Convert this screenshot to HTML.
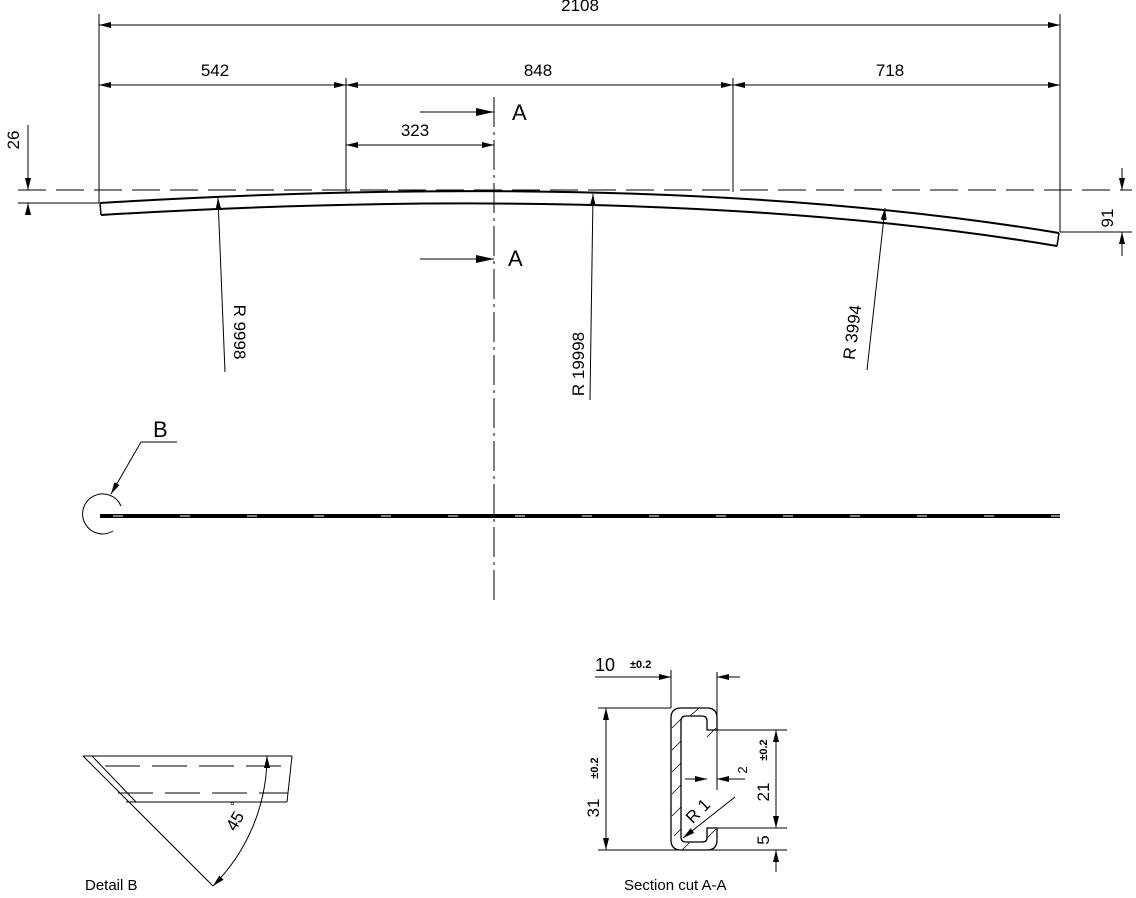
<!DOCTYPE html>
<html><head><meta charset="utf-8"><style>
html,body{margin:0;padding:0;background:#fff}
svg{display:block}
text{font-family:"Liberation Sans",Arial,sans-serif;fill:#000}
</style></head><body>
<svg width="1136" height="898" viewBox="0 0 1136 898" xmlns="http://www.w3.org/2000/svg">
<defs>
<marker id="a" viewBox="0 0 12 6" refX="12" refY="3" markerWidth="12" markerHeight="6" orient="auto-start-reverse" markerUnits="userSpaceOnUse"><path d="M0,0 L12,3 L0,6 z" fill="#000"/></marker>
<marker id="b" viewBox="0 0 18 8" refX="18" refY="4" markerWidth="18" markerHeight="8" orient="auto" markerUnits="userSpaceOnUse"><path d="M0,0 L18,4 L0,8 z" fill="#000"/></marker>
</defs>
<g stroke="#000" stroke-width="1" fill="none">
<line x1="99" y1="14" x2="99" y2="203"/>
<line x1="1060" y1="14" x2="1060" y2="232"/>
<line x1="346" y1="78" x2="346" y2="192"/>
<line x1="733" y1="78" x2="733" y2="192"/>
<line x1="99" y1="25" x2="1060" y2="25" marker-start="url(#a)" marker-end="url(#a)"/>
<line x1="99" y1="85" x2="346" y2="85" marker-start="url(#a)" marker-end="url(#a)"/>
<line x1="346" y1="85" x2="733" y2="85" marker-start="url(#a)" marker-end="url(#a)"/>
<line x1="733" y1="85" x2="1060" y2="85" marker-start="url(#a)" marker-end="url(#a)"/>
<line x1="346" y1="145" x2="494" y2="145" marker-start="url(#a)" marker-end="url(#a)"/>
<line x1="420" y1="112" x2="494" y2="112" marker-end="url(#b)"/>
<line x1="420" y1="259" x2="494" y2="259" marker-end="url(#b)"/>
<line x1="494" y1="97" x2="494" y2="605" stroke-dasharray="30,5,3,5"/>
<line x1="18" y1="190" x2="1132" y2="190" stroke-dasharray="28,10"/>
<line x1="18" y1="203" x2="99" y2="203"/>
<line x1="28" y1="125" x2="28" y2="190" marker-end="url(#a)"/>
<line x1="28" y1="215" x2="28" y2="203" marker-end="url(#a)"/>
<line x1="1060" y1="232" x2="1132" y2="232"/>
<line x1="1122" y1="168" x2="1122" y2="190" marker-end="url(#a)"/>
<line x1="1122" y1="256" x2="1122" y2="232" marker-end="url(#a)"/>
<path d="M100,203 C400,185 750,182 1059,233" stroke-width="2"/>
<path d="M101,215 C400,197 750,195 1057,246" stroke-width="2"/>
<path d="M100,205 C400,187 750,184 1059,235" stroke="#fff" stroke-width="0.8" stroke-dasharray="40,30"/>
<line x1="100" y1="203" x2="101" y2="215" stroke-width="1.5"/>
<line x1="1059" y1="233" x2="1057" y2="246" stroke-width="1.5"/>
<line x1="225" y1="372" x2="218" y2="198" marker-end="url(#a)"/>
<line x1="590" y1="400" x2="593" y2="194" marker-end="url(#a)"/>
<line x1="867" y1="370" x2="885" y2="208" marker-end="url(#a)"/>
<line x1="100" y1="516" x2="1060" y2="516" stroke-width="4"/>
<line x1="100" y1="516" x2="1060" y2="516" stroke="#fff" stroke-width="1" stroke-dasharray="10,57" stroke-dashoffset="-80"/>
<path d="M121,506 A20,20 0 1 0 113,531"/>
<line x1="141" y1="442" x2="177" y2="442"/>
<line x1="141" y1="442" x2="111" y2="494" marker-end="url(#a)"/>
<line x1="83" y1="756" x2="292" y2="756"/>
<line x1="292" y1="756" x2="287" y2="802"/>
<line x1="126" y1="802" x2="287" y2="802"/>
<line x1="83" y1="756" x2="213" y2="886"/>
<line x1="92" y1="756" x2="136" y2="802"/>
<line x1="105" y1="766" x2="290" y2="766" stroke-dasharray="35,12"/>
<line x1="118" y1="793" x2="288" y2="793" stroke-dasharray="35,12"/>
<path d="M267,756 A184,184 0 0 1 213,886" marker-start="url(#a)" marker-end="url(#a)"/>
<path d="M717,730 L717,718 Q717,708 707,708 L681,708 Q671,708 671,718 L671,840 Q671,850 681,850 L707,850 Q717,850 717,840 L717,828 L707,828 L707,838 Q707,842 702,842 L686,842 Q681,842 681,837 L681,721 Q681,716 686,716 L702,716 Q707,716 707,721 L707,730 Z" stroke-width="1.3"/>
<g stroke-width="0.8">
<line x1="672" y1="728" x2="681" y2="719"/><line x1="672" y1="750" x2="681" y2="741"/><line x1="672" y1="772" x2="681" y2="763"/><line x1="672" y1="794" x2="681" y2="785"/><line x1="672" y1="816" x2="681" y2="807"/><line x1="674" y1="836" x2="681" y2="829"/><line x1="682" y1="850" x2="690" y2="842"/><line x1="690" y1="716" x2="699" y2="708"/><line x1="707" y1="737" x2="716" y2="728"/><line x1="707" y1="838" x2="716" y2="829"/>
</g>
<line x1="671" y1="670" x2="671" y2="708"/>
<line x1="717" y1="672" x2="717" y2="790"/>
<line x1="595" y1="677" x2="671" y2="677" marker-end="url(#a)"/>
<line x1="740" y1="677" x2="717" y2="677" marker-end="url(#a)"/>
<line x1="598" y1="708" x2="671" y2="708"/>
<line x1="598" y1="850" x2="787" y2="850"/>
<line x1="606" y1="708" x2="606" y2="850" marker-start="url(#a)" marker-end="url(#a)"/>
<line x1="717" y1="730" x2="787" y2="730"/>
<line x1="717" y1="828" x2="787" y2="828"/>
<line x1="776" y1="730" x2="776" y2="828" marker-start="url(#a)" marker-end="url(#a)"/>
<line x1="776" y1="872" x2="776" y2="850" marker-end="url(#a)"/>
<line x1="685" y1="779" x2="707" y2="779" marker-end="url(#a)"/>
<line x1="745" y1="779" x2="717" y2="779" marker-end="url(#a)"/>
<line x1="735" y1="797" x2="683" y2="838" marker-end="url(#a)"/>
</g>
<g font-size="17">
<text x="580" y="11" text-anchor="middle">2108</text>
<text x="215" y="76" text-anchor="middle">542</text>
<text x="538" y="76" text-anchor="middle">848</text>
<text x="890" y="76" text-anchor="middle">718</text>
<text x="415" y="136" text-anchor="middle">323</text>
<text x="512" y="120" font-size="22">A</text>
<text x="508" y="266" font-size="22">A</text>
<text x="153" y="437" font-size="22">B</text>
<text transform="translate(19,140) rotate(-90)" text-anchor="middle">26</text>
<text transform="translate(1113,218) rotate(-90)" text-anchor="middle">91</text>
<text transform="translate(234,332) rotate(90)" text-anchor="middle">R 9998</text>
<text transform="translate(584,364) rotate(-90)" text-anchor="middle">R 19998</text>
<text transform="translate(858,333) rotate(-83)" text-anchor="middle">R 3994</text>
<text transform="translate(240,824) rotate(-60)" text-anchor="middle">45</text>
<text x="230" y="810" font-size="12">°</text>
<text x="85" y="890" font-size="15">Detail B</text>
<text x="624" y="890" font-size="15">Section cut A-A</text>
<text x="595" y="671" font-size="18">10</text>
<text x="630" y="668" font-size="11" font-weight="bold">±0.2</text>
<text transform="translate(599,808) rotate(-90)" text-anchor="middle">31</text>
<text transform="translate(598,768) rotate(-90)" text-anchor="middle" font-size="11" font-weight="bold">±0.2</text>
<text transform="translate(769,792) rotate(-90)" text-anchor="middle">21</text>
<text transform="translate(767,750) rotate(-90)" text-anchor="middle" font-size="11" font-weight="bold">±0.2</text>
<text transform="translate(769,840) rotate(-90)" text-anchor="middle">5</text>
<text transform="translate(747,770) rotate(-90)" text-anchor="middle" font-size="13">2</text>
<text transform="translate(702,815) rotate(-45)" text-anchor="middle">R 1</text>
</g>
</svg>
</body></html>
